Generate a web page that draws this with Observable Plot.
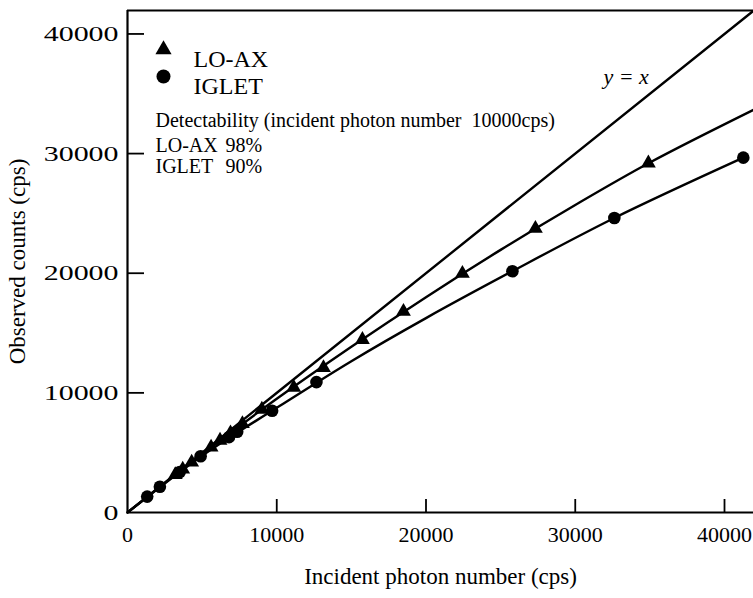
<!DOCTYPE html>
<html><head><meta charset="utf-8">
<script src="https://cdn.jsdelivr.net/npm/d3@7"></script>
<script src="https://cdn.jsdelivr.net/npm/@observablehq/plot@0.6"></script>
<style>body{margin:0;background:#fff;} #chart svg{display:block;}</style>
</head><body><div id="chart"></div>
<script>
// Axis ticks
const xTicks = [0, 10000, 20000, 30000, 40000];
const yTicks = [0, 10000, 20000, 30000, 40000];
const xMax = 41943;
const yMax = 41960;

// LO-AX measured points (incident, observed)
const loaxIncident = [3200, 3700, 4300, 5600, 6200, 6900, 7700, 9000, 11140, 13130, 15740, 18490, 22440, 27330, 34900];
const loaxObserved = [3150, 3620, 4200, 5450, 6030, 6650, 7420, 8620, 10450, 12100, 14450, 16800, 19970, 23740, 29200];

// IGLET measured points
const igletIncident = [1320, 2170, 3500, 4900, 6800, 7350, 9690, 12660, 25790, 32620, 41260];
const igletObserved = [1330, 2150, 3380, 4700, 6300, 6750, 8500, 10900, 20170, 24620, 29660];

// fitted curves
const loaxFitX = [0, 5000, 10000, 15000, 20000, 25000, 30000, 35000, 41943];
const loaxFitY = [0, 4880, 9500, 13850, 18000, 21950, 25700, 29250, 33650];
const igletFitX = [0, 5000, 10000, 15000, 20000, 25790, 32620, 41260];
const igletFitY = [0, 4750, 8750, 12650, 16250, 20170, 24620, 29660];

// identity line
const identity = [0, yMax + 2000];

const loax = loaxIncident.map((x, i) => ({x, y: loaxObserved[i]}));
const iglet = igletIncident.map((x, i) => ({x, y: igletObserved[i]}));
const loaxFit = loaxFitX.map((x, i) => ({x, y: loaxFitY[i]}));
const igletFit = igletFitX.map((x, i) => ({x, y: igletFitY[i]}));
const diag = identity.map(v => ({x: v, y: v}));

const serif = "'Liberation Serif', 'DejaVu Serif', serif";
const fmt = d => String(d);

const chart = Plot.plot({
  width: 753,
  height: 598,
  marginLeft: 127,
  marginRight: 0,
  marginTop: 10,
  marginBottom: 86,
  style: {fontFamily: serif, background: "#fff", color: "#000", overflow: "visible"},
  x: {domain: [0, xMax]},
  y: {domain: [0, yMax]},
  marks: [
    Plot.line(diag, {x: "x", y: "y", stroke: "#000", strokeWidth: 2.4, clip: true}),
    Plot.line(loaxFit, {x: "x", y: "y", stroke: "#000", strokeWidth: 2.4, curve: "catmull-rom"}),
    Plot.line(igletFit, {x: "x", y: "y", stroke: "#000", strokeWidth: 2.4, curve: "catmull-rom"}),
    Plot.dot(loax, {x: "x", y: "y", symbol: "triangle", r: 5.5, fill: "#000", stroke: null}),
    Plot.dot(iglet, {x: "x", y: "y", symbol: "circle", r: 6.3, fill: "#000", stroke: null}),
    Plot.ruleY([yMax], {stroke: "#000", strokeWidth: 2}),
    Plot.ruleX([0], {stroke: "#000", strokeWidth: 2.2}),
    Plot.ruleY([0], {stroke: "#000", strokeWidth: 2.2}),
    Plot.axisX({ticks: xTicks.filter(d => d > 0), tickSize: -13, tickPadding: 0, text: null, label: null, stroke: "#000", strokeWidth: 1.8}),
    Plot.axisX({ticks: xTicks, tickSize: 0, tickPadding: 14, tickFormat: fmt, fontSize: 22, label: null}),
    Plot.axisY({ticks: yTicks.filter(d => d > 0), tickSize: -17, text: null, label: null, stroke: "#000", strokeWidth: 1.8}),
    Plot.axisY({ticks: yTicks, tickSize: 0, tickPadding: 9, tickFormat: fmt, fontSize: 22, label: null}),
    Plot.text(["Incident photon number (cps)"], {frameAnchor: "bottom", dy: 71, fontSize: 23, fill: "#000"}),
    Plot.text(["Observed counts (cps)"], {frameAnchor: "left", dx: -110, rotate: -90, textAnchor: "middle", fontSize: 23, fill: "#000"}),
    // legend
    Plot.dot([0], {frameAnchor: "top-left", dx: 36, dy: 39, symbol: "triangle", r: 6, fill: "#000"}),
    Plot.dot([0], {frameAnchor: "top-left", dx: 36, dy: 66, symbol: "circle", r: 7, fill: "#000"}),
    Plot.text(["LO-AX"], {frameAnchor: "top-left", dx: 66, dy: 39, textAnchor: "start", fontSize: 24, fill: "#000"}),
    Plot.text(["IGLET"], {frameAnchor: "top-left", dx: 66, dy: 66, textAnchor: "start", fontSize: 24, fill: "#000"}),
    Plot.text(["Detectability (incident photon number  10000cps)"], {frameAnchor: "top-left", dx: 28, dy: 102, textAnchor: "start", fontSize: 20, fill: "#000"}),
    Plot.text(["LO-AX"], {frameAnchor: "top-left", dx: 28, dy: 127, textAnchor: "start", fontSize: 20, fill: "#000"}),
    Plot.text(["98%"], {frameAnchor: "top-left", dx: 98, dy: 127, textAnchor: "start", fontSize: 20, fill: "#000"}),
    Plot.text(["IGLET"], {frameAnchor: "top-left", dx: 28, dy: 148, textAnchor: "start", fontSize: 20, fill: "#000"}),
    Plot.text(["90%"], {frameAnchor: "top-left", dx: 98, dy: 148, textAnchor: "start", fontSize: 20, fill: "#000"}),
    Plot.text(["y = x"], {frameAnchor: "top-left", dx: 476, dy: 58, textAnchor: "start", fontSize: 22, fontStyle: "italic", fill: "#000"})
  ]
});
// the y tick labels are horizontally wider in the reference
d3.select(chart).selectAll("g[aria-label='y-axis tick label'] text").each(function() {
  const t = d3.select(this);
  const x = +t.attr("x") || 0, y = +t.attr("y") || 0;
  const tr = t.attr("transform") || "";
  t.attr("transform", `${tr} translate(${x},${y}) scale(1.36,1) translate(${-x},${-y})`);
});
document.getElementById("chart").appendChild(chart);
</script>
</body></html>
